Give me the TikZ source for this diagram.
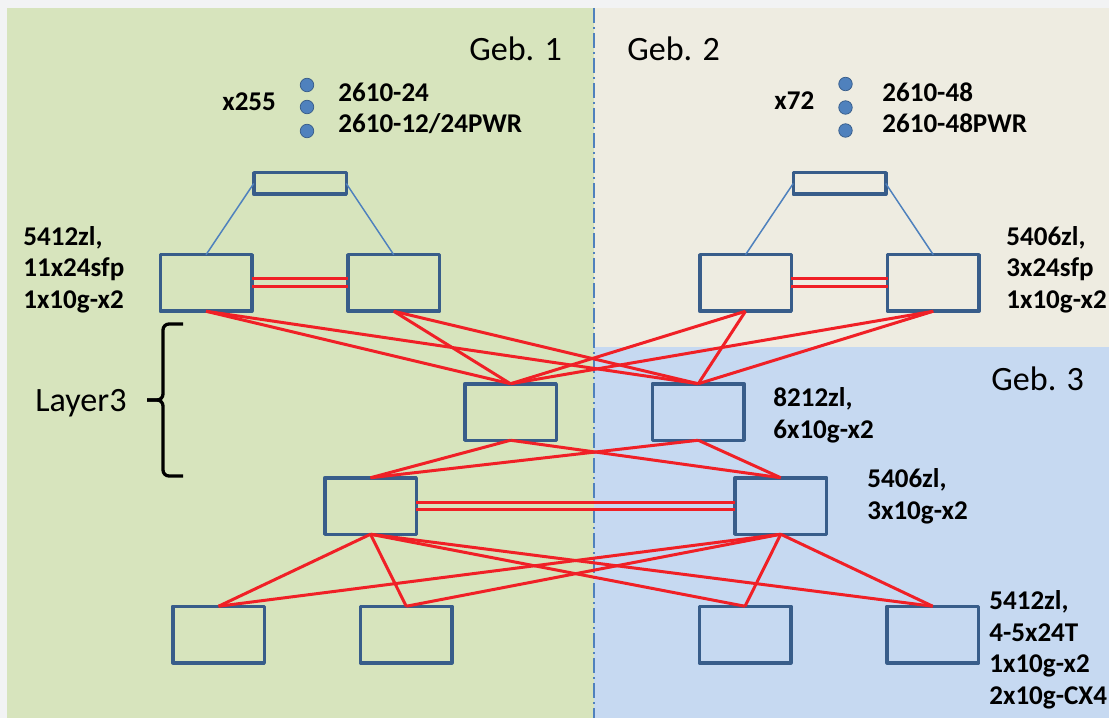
\documentclass[tikz,border=0pt]{standalone}
\usepackage{fontspec}
\setmainfont{Carlito}
\usetikzlibrary{positioning}

\definecolor{gebone}{HTML}{D7E4BD}
\definecolor{gebtwo}{HTML}{EEECE1}
\definecolor{gebthree}{HTML}{C6D9F1}
\definecolor{framegray}{HTML}{F2F3F4}
\definecolor{boxblue}{HTML}{385D8A}
\definecolor{linkblue}{HTML}{4F81BD}
\definecolor{linkred}{RGB}{240,32,38}

\begin{document}
\begin{tikzpicture}[x=1mm, y=1mm, node distance=19.25mm,
  box/.style={draw=boxblue, line width=0.7mm, line join=round, minimum width=18.3mm, minimum height=11.3mm, inner sep=0pt, outer sep=0pt},
  topbox/.style={box, minimum width=18.5mm, minimum height=4.3mm},
  uplink/.style={linkblue, line width=0.3mm},
  link/.style={linkred, line width=0.6mm},
  lbl/.style={font=\fontsize{15.4}{17.9}\selectfont\bfseries, align=left, inner sep=0pt, anchor=base west},
  geb/.style={font=\fontsize{19.4}{23}\selectfont, inner sep=0pt, anchor=base west},
  dot/.style={circle, fill=linkblue, draw=boxblue, line width=0.15mm, minimum size=2.7mm, inner sep=0pt}]

% buildings
\useasboundingbox (0,0) rectangle (221.8,-143.6);
\fill[framegray] (0,0) rectangle (221.8,-143.6);
\fill[gebone] (1.4,-1.6) rectangle (118.8,-143.6);
\fill[gebtwo] (118.8,-1.6) rectangle (221.8,-69.4);
\fill[gebthree] (118.8,-69.4) rectangle (221.8,-143.6);
\draw[linkblue, line width=0.3mm, dash pattern=on 3mm off 0.8mm on 0.4mm off 0.8mm] (118.8,-1.6) -- (118.8,-143.6);

\node[geb] (geb1) at (93.8,-12.2) {Geb. 1};
\node[geb] (geb2) at (125.4,-12.2) {Geb. 2};
\node[geb] (geb3) at (198.2,-78) {Geb. 3};

% access switches
\node[lbl] (cntL) at (44.4,-22.2) {x255};
\node[dot] (dotL1) at (61.4,-17) {};
\node[dot] (dotL2) at (61.4,-21.4) {};
\node[dot] (dotL3) at (61.4,-26.2) {};
\node[lbl] (modL) at (67.6,-26.6) {2610-24\\2610-12/24PWR};

\node[lbl] (cntR) at (154.8,-22) {x72};
\node[dot] (dotR1) at (169.1,-16.8) {};
\node[dot] (dotR2) at (169.1,-21.5) {};
\node[dot] (dotR3) at (169.1,-26.1) {};
\node[lbl] (modR) at (176.4,-26.6) {2610-48\\2610-48PWR};

\node[topbox] (accL) at (60,-36.7) {};
\node[topbox] (accR) at (167.9,-36.7) {};

% distribution
\node[box] (distA) at (41.2,-56.6) {};
\node[box, right=of distA] (distB) {};
\node[box] (distC) at (149.1,-56.6) {};
\node[box, right=of distC] (distD) {};
\node[lbl] (lblAB) at (4.6,-61.6) {5412zl,\\11x24sfp\\1x10g-x2};
\node[lbl] (lblCD) at (201.2,-61.6) {5406zl,\\3x24sfp\\1x10g-x2};

% core
\node[box] (coreL) at (102.1,-82.4) {};
\node[box, right=of coreL] (coreR) {};
\node[lbl] (lblCore) at (154.6,-87.6) {8212zl,\\6x10g-x2};
\node[geb] (layer) at (7,-82.3) {Layer3};

\node[box] (aggL) at (74.1,-101.2) {};
\node[box, right=63.75mm of aggL] (aggR) {};
\node[lbl] (lblAgg) at (173.4,-103.8) {5406zl,\\3x10g-x2};

% edge
\node[box] (edgeA) at (43.7,-126.9) {};
\node[box, right=of edgeA] (edgeB) {};
\node[box] (edgeC) at (149,-126.9) {};
\node[box, right=of edgeC] (edgeD) {};
\node[lbl] (lblEdge) at (197.8,-140.8) {5412zl,\\4-5x24T\\1x10g-x2\\2x10g-CX4};

% bracket
\draw[line width=0.66mm, rounded corners=1.2mm] (36.6,-64.8) -- (32.6,-64.8) -- (32.6,-80) -- (29.4,-80);
\draw[line width=0.66mm, rounded corners=1.2mm] (36.6,-95.2) -- (32.6,-95.2) -- (32.6,-80) -- (29.4,-80);

\draw[uplink] (accL.west) -- (distA.north);
\draw[uplink] (accL.east) -- (distB.north);
\draw[uplink] (accR.west) -- (distC.north);
\draw[uplink] (accR.east) -- (distD.north);

\draw[link] ([yshift=0.8mm]distA.east) -- ([yshift=0.8mm]distB.west);
\draw[link] ([yshift=-0.8mm]distA.east) -- ([yshift=-0.8mm]distB.west);
\draw[link] ([yshift=0.8mm]distC.east) -- ([yshift=0.8mm]distD.west);
\draw[link] ([yshift=-0.8mm]distC.east) -- ([yshift=-0.8mm]distD.west);
\draw[link] ([yshift=0.7mm]aggL.east) -- ([yshift=0.7mm]aggR.west);
\draw[link] ([yshift=-0.7mm]aggL.east) -- ([yshift=-0.7mm]aggR.west);

\draw[link] (distA.south) -- (coreL.north);
\draw[link] (distA.south) -- (coreR.north);
\draw[link] (distB.south) -- (coreL.north);
\draw[link] (distB.south) -- (coreR.north);
\draw[link] (distC.south) -- (coreL.north);
\draw[link] (distC.south) -- (coreR.north);
\draw[link] (distD.south) -- (coreL.north);
\draw[link] (distD.south) -- (coreR.north);

\draw[link] (coreL.south) -- (aggL.north);
\draw[link] (coreL.south) -- (aggR.north);
\draw[link] (coreR.south) -- (aggL.north);
\draw[link] (coreR.south) -- (aggR.north);

\draw[link] (aggL.south) -- (edgeA.north);
\draw[link] (aggL.south) -- (edgeB.north);
\draw[link] (aggL.south) -- (edgeC.north);
\draw[link] (aggL.south) -- (edgeD.north);
\draw[link] (aggR.south) -- (edgeA.north);
\draw[link] (aggR.south) -- (edgeB.north);
\draw[link] (aggR.south) -- (edgeC.north);
\draw[link] (aggR.south) -- (edgeD.north);
\end{tikzpicture}
\end{document}
